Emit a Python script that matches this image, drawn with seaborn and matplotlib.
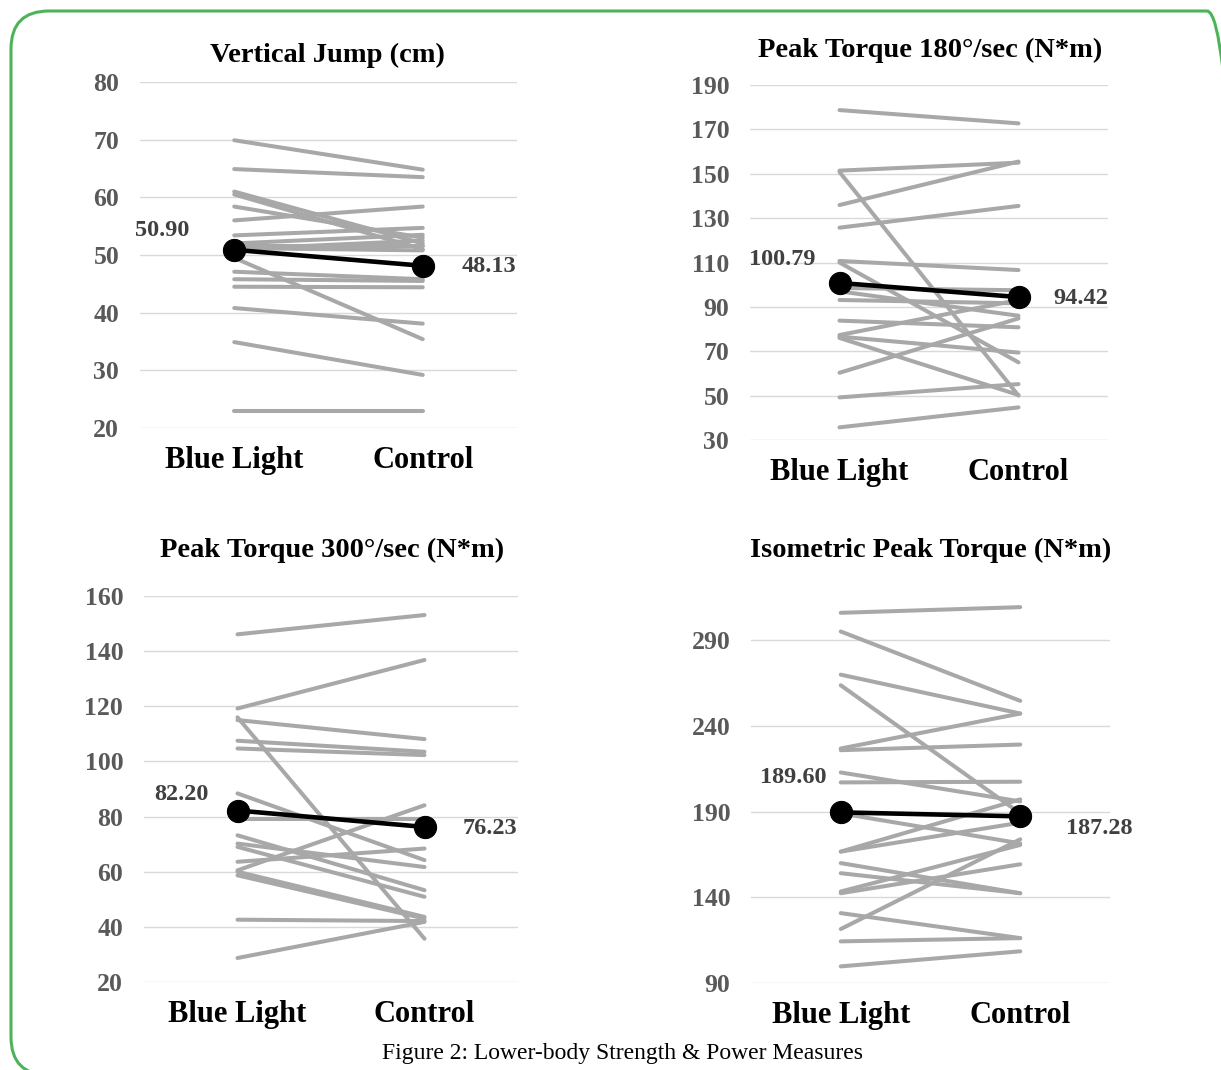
"""Lower-body strength & power: paired Blue Light vs Control lines with group means."""
import numpy as np
import pandas as pd
import seaborn as sns
import matplotlib.pyplot as plt
from matplotlib.patches import FancyBboxPatch
from matplotlib.transforms import IdentityTransform

sns.set_theme(style="white")
plt.rcParams["font.family"] = ["Liberation Serif", "DejaVu Serif"]

conditions = ["Blue Light", "Control"]

# individual subjects (blue light value, control value)
jump_blue = [69.9, 64.9, 61.0, 60.5, 58.4, 56.0, 53.4, 52.0, 51.5, 51.0, 49.5, 47.1, 45.8, 44.5, 40.8, 34.9, 22.9, 51.2]
jump_ctrl = [64.8, 63.5, 52.0, 51.0, 53.0, 58.4, 54.7, 53.5, 51.5, 52.5, 35.4, 45.8, 45.5, 44.4, 38.1, 29.2, 22.9, 50.8]

pt180_blue = [178.7, 151.4, 150.8, 135.9, 125.7, 110.7, 110.0, 98.5, 97.0, 93.1, 83.8, 77.3, 76.6, 76.0, 60.3, 49.2, 35.7]
pt180_ctrl = [172.7, 155.0, 50.0, 155.5, 135.5, 106.6, 65.0, 97.5, 86.0, 91.6, 80.8, 93.1, 69.4, 50.3, 84.8, 55.2, 44.7]

pt300_blue = [146.1, 119.2, 115.0, 116.0, 107.5, 104.7, 88.4, 79.3, 73.2, 70.2, 69.0, 63.6, 60.5, 60.0, 58.7, 42.6, 28.7]
pt300_ctrl = [153.1, 136.8, 108.1, 35.7, 103.5, 102.3, 64.2, 79.3, 53.3, 61.7, 50.9, 68.4, 84.1, 43.6, 43.0, 42.1, 41.8]

iso_blue = [306.1, 295.2, 270.0, 263.8, 226.9, 225.9, 212.9, 207.1, 189.0, 166.7, 166.7, 160.0, 154.1, 143.4, 142.4, 130.8, 121.5, 114.3, 99.7]
iso_ctrl = [309.4, 254.7, 247.3, 189.0, 247.3, 229.2, 196.0, 207.5, 171.5, 197.2, 183.6, 142.4, 142.4, 170.6, 159.3, 116.2, 173.9, 116.2, 108.5]

# reported group means
jump_means = [50.90, 48.13]
pt180_means = [100.79, 94.42]
pt300_means = [82.20, 76.23]
iso_means = [189.60, 187.28]

titles = ["Vertical Jump (cm)", "Peak Torque 180°/sec (N*m)",
          "Peak Torque 300°/sec (N*m)", "Isometric Peak Torque (N*m)"]

W, H = 1221, 1070
fig = plt.figure(figsize=(W / 100, H / 100), dpi=100)

# axes boxes in pixels: left, top, right, bottom
boxes = [(140, 82, 517, 428), (750, 85, 1108, 440), (144, 596, 518, 982), (751, 589, 1110, 983)]
ylims = [(20, 80), (30, 190), (20, 160), (90, 320)]
yticks = [np.arange(20, 81, 10), np.arange(30, 191, 20), np.arange(20, 161, 20), np.arange(90, 291, 50)]
title_pos = [(327, 55), (930, 50), (332, 550), (931, 550)]
# label offsets in pixels (left label, right label)
label_off = [((-72, 19), (66, -1)), ((-57, 23), (62, -1)), ((-56, 16), (65, -2)), ((-48, 35), (79, -12))]

panels = [(jump_blue, jump_ctrl, jump_means), (pt180_blue, pt180_ctrl, pt180_means),
          (pt300_blue, pt300_ctrl, pt300_means), (iso_blue, iso_ctrl, iso_means)]

for i, (blue, ctrl, means) in enumerate(panels):
    l, t, r, b = boxes[i]
    ax = fig.add_axes([l / W, 1 - b / H, (r - l) / W, (b - t) / H])

    n = len(blue)
    df = pd.DataFrame({
        "subject": list(range(n)) * 2,
        "cond": [0] * n + [1] * n,
        "value": list(blue) + list(ctrl),
    })
    sns.lineplot(data=df, x="cond", y="value", units="subject", estimator=None,
                 color="#A8A8A8", lw=2.9, ax=ax, legend=False)
    mdf = pd.DataFrame({"cond": [0, 1], "value": means})
    sns.lineplot(data=mdf, x="cond", y="value", color="black", lw=3.3, marker="o",
                 markersize=16, markeredgecolor="black", ax=ax, zorder=5)

    (lx, ly), (rx, ry) = label_off[i]
    ax.annotate(f"{means[0]:.2f}", (0, means[0]), xytext=(lx, ly), textcoords="offset pixels",
                ha="center", va="center", fontsize=17.5, fontweight="bold", color="#404040")
    ax.annotate(f"{means[1]:.2f}", (1, means[1]), xytext=(rx, ry), textcoords="offset pixels",
                ha="center", va="center", fontsize=17.5, fontweight="bold", color="#404040")

    ax.set_xlim(-0.5, 1.5)
    ax.set_ylim(*ylims[i])
    ax.set_yticks(yticks[i])
    ax.set_xticks([0, 1])
    ax.set_xticklabels(conditions, fontsize=22, fontweight="bold", color="black")
    ax.tick_params(axis="y", labelsize=18.5, labelcolor="#595959", length=0, pad=15)
    ax.tick_params(axis="x", length=0, pad=13)
    for lab in ax.get_yticklabels():
        lab.set_fontweight("bold")
    ax.set_xlabel("")
    ax.set_ylabel("")
    ax.yaxis.grid(True, color="#D9D9D9", lw=1)
    ax.xaxis.grid(False)
    ax.set_axisbelow(True)
    sns.despine(ax=ax, left=True, bottom=True)

    tx, ty = title_pos[i]
    fig.text(tx / W, 1 - ty / H, titles[i], ha="center", va="center",
             fontsize=20.5, fontweight="bold", color="black")

fig.text(622 / W, 1 - 1054 / H, "Figure 2: Lower-body Strength & Power Measures",
         ha="center", va="center", fontsize=17, color="black")

border = FancyBboxPatch((11, -5), 1234, 1064, boxstyle="round,pad=0,rounding_size=38",
                        transform=IdentityTransform(), fill=False, ec="#4DB35A", lw=2.2)
fig.add_artist(border)

fig.savefig("out.png", dpi=100)
